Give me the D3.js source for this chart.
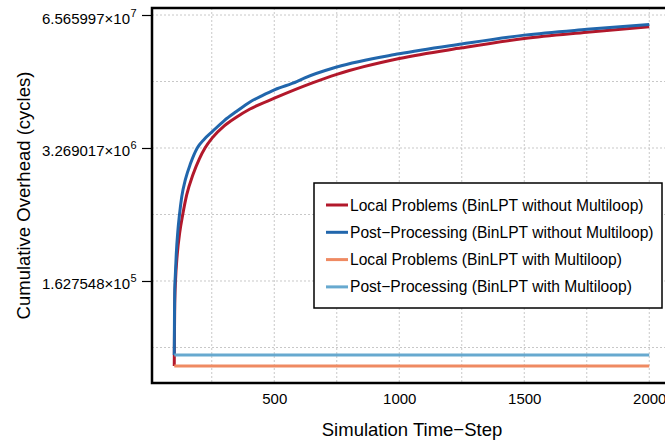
<!DOCTYPE html>
<html>
<head>
<meta charset="utf-8">
<script src="https://cdn.jsdelivr.net/npm/d3@7"></script>
<style>
  body { margin: 0; background: #fff; }
  svg { display: block; }
</style>
</head>
<body>
<div id="chart"></div>
<script>
// Series values (cumulative overhead in cycles per simulation time-step)
const stepsLocalNoML = [100, 101, 102, 105, 112, 122, 134, 150, 175, 200, 223, 252, 300, 350, 403, 503, 650, 750, 1000, 1250, 1500, 1751, 2000];
const localNoML = [2.39e4, 5.42e4, 9.87e4, 1.63e5, 2.97e5, 4.88e5, 7.29e5, 1.14e6, 1.80e6, 2.55e6, 3.27e6, 4.11e6, 5.39e6, 6.58e6, 7.87e6, 1.01e7, 1.41e7, 1.72e7, 2.46e7, 3.13e7, 3.86e7, 4.44e7, 5.04e7];

const stepsPostNoML = [100, 101, 102, 104, 108, 114, 121, 130, 145, 165, 192, 220, 252, 300, 350, 403, 450, 503, 590, 620, 750, 1000, 1250, 1500, 1751, 2000];
const postNoML = [3.06e4, 8.09e4, 1.33e5, 1.80e5, 2.97e5, 4.88e5, 7.29e5, 1.09e6, 1.62e6, 2.30e6, 3.27e6, 3.99e6, 4.73e6, 6.07e6, 7.49e6, 9.24e6, 1.06e7, 1.22e7, 1.46e7, 1.58e7, 2.03e7, 2.74e7, 3.42e7, 4.17e7, 4.75e7, 5.30e7];

const stepsFlat = [100, 2000];
const localML = [2.39e4, 2.39e4];
const postML = [3.06e4, 3.06e4];

const seriesNames = [
  "Local Problems (BinLPT without Multiloop)",
  "Post\u2212Processing (BinLPT without Multiloop)",
  "Local Problems (BinLPT with Multiloop)",
  "Post\u2212Processing (BinLPT with Multiloop)"
];
const seriesColors = ["#B2182B", "#2166AC", "#EF8A62", "#67A9CF"];

// Tick labels
const xTicks = [500, 1000, 1500, 2000];
const xGrid = [250, 500, 750, 1000, 1250, 1500, 1750, 2000];
const yTicks = [1.627548e5, 3.269017e6, 6.565997e7];
const yGrid = [3.63155e4, 1.627548e5, 7.29416e5, 3.269017e6, 1.4650719e7, 6.565997e7];

/*******************************/
/*    Declare the constants    */
/*******************************/
const width = 665;
const height = 443;
const plot = {left: 152, top: 8, right: 672, bottom: 383};
const font = "'Liberation Sans', Arial, Helvetica, sans-serif";

const svg = d3.select("#chart")
  .append("svg")
    .attr("width", width)
    .attr("height", height)
    .attr("font-family", font);

// Scales
const xScale = d3.scaleLinear()
  .domain([11, 2091])
  .range([plot.left, plot.right]);

const yScale = d3.scaleLog()
  .base(Math.E)
  .domain([Math.exp(9.699), Math.exp(18.158)])
  .range([plot.bottom, plot.top]);

// Grid
const grid = svg.append("g");
grid.selectAll("line.gx")
  .data(xGrid)
  .join("line")
    .attr("class", "gx")
    .attr("x1", d => xScale(d))
    .attr("x2", d => xScale(d))
    .attr("y1", plot.top)
    .attr("y2", plot.bottom)
    .attr("stroke", "#c8c8c8")
    .attr("stroke-width", 1)
    .attr("stroke-dasharray", "2,2");
grid.selectAll("line.gy")
  .data(yGrid)
  .join("line")
    .attr("class", "gy")
    .attr("x1", plot.left)
    .attr("x2", plot.right)
    .attr("y1", d => yScale(d))
    .attr("y2", d => yScale(d))
    .attr("stroke", "#c8c8c8")
    .attr("stroke-width", 1)
    .attr("stroke-dasharray", "2,2");

// Lines
const lineGen = d3.line()
  .x(d => xScale(d[0]))
  .y(d => yScale(d[1]))
  .curve(d3.curveMonotoneX);

const series = [
  d3.zip(stepsLocalNoML, localNoML),
  d3.zip(stepsPostNoML, postNoML),
  d3.zip(stepsFlat, localML),
  d3.zip(stepsFlat, postML)
];

svg.append("g")
  .selectAll("path")
  .data(series)
  .join("path")
    .attr("d", lineGen)
    .attr("fill", "none")
    .attr("stroke", (d, i) => seriesColors[i])
    .attr("stroke-width", 3);

// Box
svg.append("rect")
  .attr("x", plot.left)
  .attr("y", plot.top)
  .attr("width", plot.right - plot.left)
  .attr("height", plot.bottom - plot.top)
  .attr("fill", "none")
  .attr("stroke", "#000")
  .attr("stroke-width", 2.5);

// Y axis
const leftAxis = d3.axisLeft(yScale)
  .tickValues(yTicks)
  .tickSize(9)
  .tickPadding(5)
  .tickFormat("");
const yAxisG = svg.append("g")
  .attr("transform", `translate(${plot.left - 1}, 0)`)
  .call(leftAxis)
  .attr("font-family", font);
yAxisG.select(".domain").remove();
yAxisG.selectAll(".tick line").attr("stroke", "#000").attr("stroke-width", 1.2);
yAxisG.selectAll(".tick text").remove();
yAxisG.selectAll(".tick").each(function(d) {
  const parts = d.toExponential(6).split("e");
  const tick = d3.select(this);
  tick.append("text")
    .attr("text-anchor", "end")
    .attr("x", -21)
    .attr("y", 8)
    .attr("fill", "#000")
    .attr("font-size", 15)
    .text(parts[0] + "\u00d7" + "10");
  tick.append("text")
    .attr("text-anchor", "start")
    .attr("x", -20.5)
    .attr("y", 1)
    .attr("fill", "#000")
    .attr("font-size", 11)
    .text(+parts[1]);
});

// X axis
const bottomAxis = d3.axisBottom(xScale)
  .tickValues(xTicks)
  .tickSize(0)
  .tickPadding(10)
  .tickFormat(d3.format("d"));
const xAxisG = svg.append("g")
  .attr("transform", `translate(0, ${plot.bottom})`)
  .call(bottomAxis)
  .attr("font-family", font);
xAxisG.select(".domain").remove();
xAxisG.selectAll(".tick text")
  .attr("fill", "#000")
  .attr("font-size", 15);

// Axis titles
svg.append("text")
  .text("Simulation Time\u2212Step")
  .attr("text-anchor", "middle")
  .attr("x", (plot.left + plot.right) / 2)
  .attr("y", 436)
  .attr("font-size", 18.5);

svg.append("text")
  .text("Cumulative Overhead (cycles)")
  .attr("text-anchor", "middle")
  .attr("transform", `translate(30, ${(plot.top + plot.bottom) / 2}) rotate(-90)`)
  .attr("font-size", 18.5);

// Legend
const legend = svg.append("g");
legend.append("rect")
  .attr("x", 314)
  .attr("y", 183)
  .attr("width", 348)
  .attr("height", 125)
  .attr("fill", "#fff")
  .attr("stroke", "#000")
  .attr("stroke-width", 1.5);
const rows = legend.selectAll("g")
  .data(seriesNames)
  .join("g")
    .attr("transform", (d, i) => `translate(0, ${205 + i * 27.3})`);
rows.append("line")
  .attr("x1", 326)
  .attr("x2", 348)
  .attr("stroke", (d, i) => seriesColors[i])
  .attr("stroke-width", 3);
rows.append("text")
  .text(d => d)
  .attr("x", 350)
  .attr("y", 5.5)
  .attr("font-size", 15.6);
</script>
</body>
</html>
